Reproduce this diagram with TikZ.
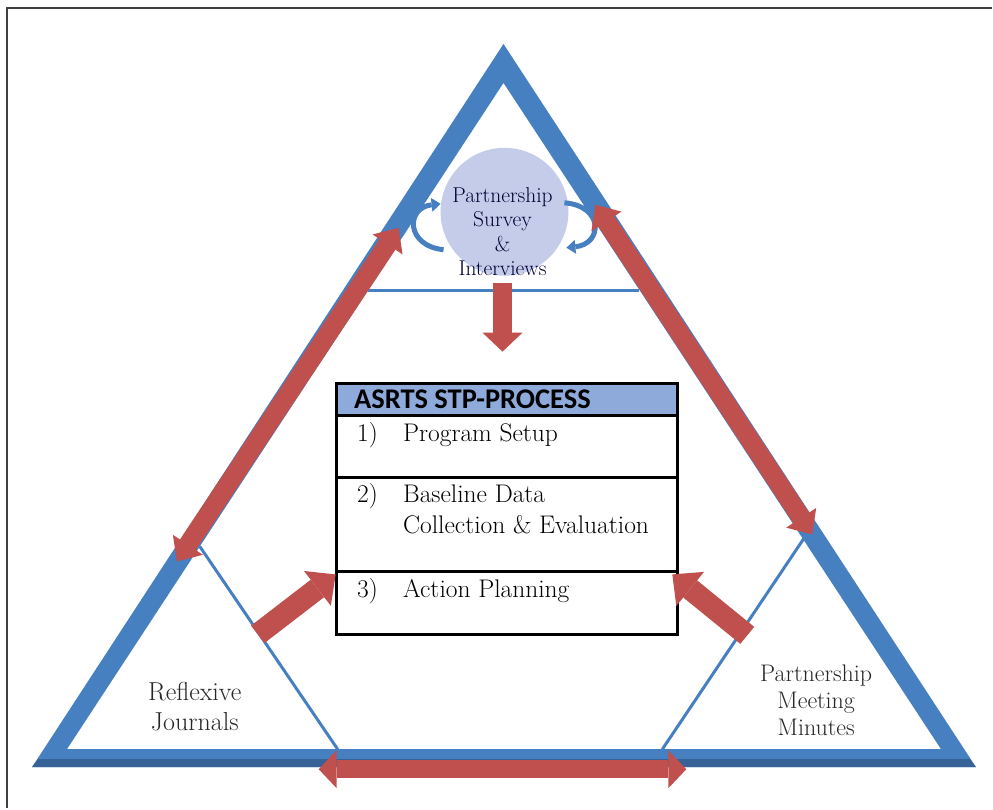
\documentclass[tikz,border=0pt]{standalone}
\usepackage{fontspec}
\newfontfamily\headfont{Carlito}
\usetikzlibrary{arrows.meta}
\definecolor{bandblue}{RGB}{70,128,192}
\definecolor{banddark}{RGB}{54,98,152}
\definecolor{arrowred}{RGB}{192,80,77}
\definecolor{headblue}{RGB}{142,170,219}
\definecolor{circblue}{RGB}{196,204,234}
\begin{document}
\begin{tikzpicture}[x=1pt,y=-1pt,
                    divider/.style={draw=bandblue,line width=3pt},
                    fat/.style={draw=arrowred,line width=19pt,
                      >={Triangle[width=36pt,length=20pt,line width=0pt]},<->},
                    stubby/.style={draw=arrowred,line width=22pt,
                      >={Triangle[width=44pt,length=23pt,line width=0pt]},->},
                    curl/.style={draw=bandblue,line width=5pt,
                      >={Triangle[width=14pt,length=9pt,line width=0pt]},->},
                    cell/.style={draw,line width=2.4pt,anchor=north west,
                      minimum width=341pt,inner sep=0pt,outer sep=0pt},
                    entry/.style={anchor=base west,font=\fontsize{25.5}{31}\selectfont},
                    corner/.style={align=center,text=black!85}]
 \path (0,0) (993,809);
 % frame
 \draw[black!75,line width=2pt] (7,809)--(7,8)--(993,8);
 % the big triangle
 \fill[bandblue,even odd rule] (32,768)--(977,768)--(504,44)--cycle
                               (67,750)--(942,750)--(504,83)--cycle;
 \fill[banddark] (38,760)--(971,760)--(977,768)--(32,768)--cycle;
 \coordinate (t1) at (368,291); \coordinate (t2) at (640,291);
 \coordinate (l1) at (200,547); \coordinate (l2) at (338,750);
 \coordinate (r1) at (806,537); \coordinate (r2) at (663,750);
 \draw[divider] (t1)--(t2);
 \draw[divider] (l1)--(l2);
 \draw[divider] (r1)--(r2);
 % top corner
 \node[circle,fill=circblue,minimum size=128pt,inner sep=0pt] (survey) at (505,212) {};
 \node[align=center,font=\fontsize{21.5}{24.5}\selectfont,text=black!80!blue]
   (surveytext) at (503,232) {Partnership\\Survey\\\&\\Interviews};
 \coordinate (ca) at (444,250); \coordinate (cb) at (441,204);
 \coordinate (cc) at (565,203); \coordinate (cd) at (567,248);
 \draw[curl] (ca) .. controls (406,246) and (406,208) .. (cb);
 \draw[curl] (cc) .. controls (604,206) and (604,244) .. (cd);
 % the process table
 \node[cell,fill=headblue,minimum height=32pt] (head) at (337,384) {};
 \node[cell,minimum height=62pt] (row1) at (head.south west) {};
 \node[cell,minimum height=94pt] (row2) at (row1.south west) {};
 \node[cell,minimum height=63pt] (row3) at (row2.south west) {};
 \node[anchor=base west,font=\headfont\bfseries\fontsize{28.5}{30}\selectfont]
   (title) at (351,409) {ASRTS STP-PROCESS};
 \node[entry] (n1) at (354,442) {1)};
 \node[entry] (s1) at (400,442) {Program Setup};
 \node[entry] (n2) at (354,503) {2)};
 \node[entry] (s2) at (400,503) {Baseline Data};
 \node[entry] (s2b) at (400,534) {Collection \& Evaluation};
 \node[entry] (n3) at (354,598) {3)};
 \node[entry] (s3) at (400,598) {Action Planning};
 % side corners
 \node[corner,font=\fontsize{26}{30}\selectfont] (journals) at (195,707) {Reflexive\\Journals};
 \node[corner,font=\fontsize{24}{27.5}\selectfont] (minutes) at (817,701)
   {Partnership\\Meeting\\Minutes};
 % red arrows
 \coordinate (d1) at (503,283); \coordinate (d2) at (503,352);
 \draw[fat,line width=20pt,>={Triangle[width=40pt,length=19pt,line width=0pt]},->] (d1)--(d2);
 \coordinate (a1) at (399,228); \coordinate (a2) at (177,562);
 \draw[fat] (a1)--(a2);
 \coordinate (b1) at (596,205); \coordinate (b2) at (813,535);
 \draw[fat] (b1)--(b2);
 \coordinate (e1) at (319,770); \coordinate (e2) at (687,770);
 \draw[fat,line width=18pt,>={Triangle[width=38pt,length=18pt,line width=0pt]}] (e1)--(e2);
 \coordinate (f1) at (258,635); \coordinate (f2) at (336,575);
 \draw[stubby] (f1)--(f2);
 \coordinate (g1) at (748,636); \coordinate (g2) at (673,575);
 \draw[stubby] (g1)--(g2);
\end{tikzpicture}
\end{document}
